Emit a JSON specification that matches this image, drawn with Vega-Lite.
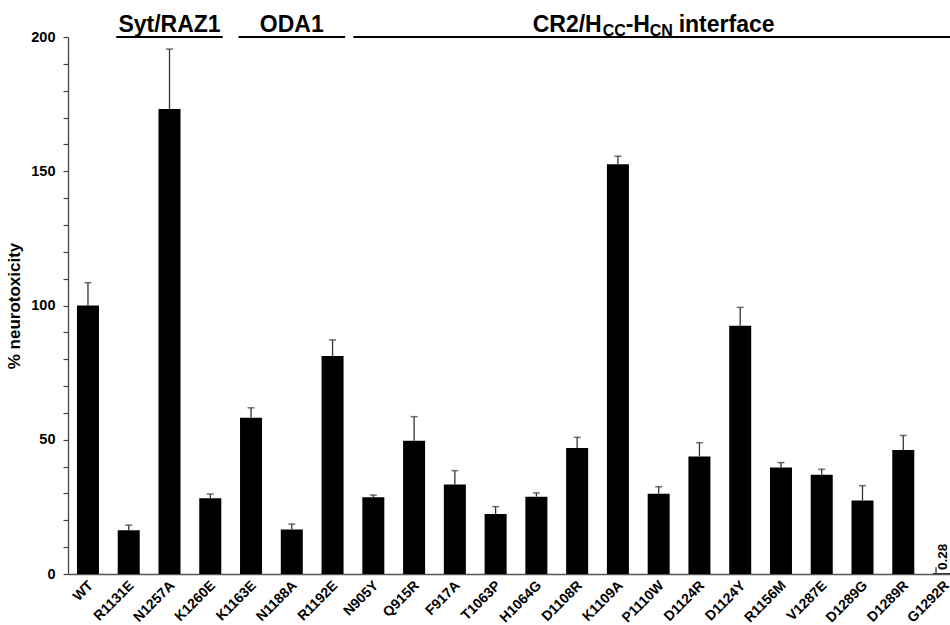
{
  "$schema": "https://vega.github.io/schema/vega-lite/v6.json",
  "width": 882,
  "height": 537,
  "autosize": {"type": "none"},
  "padding": {"left": 68, "top": 37, "right": 0, "bottom": 51},
  "background": "white",
  "config": {"view": {"stroke": null}, "font": "Liberation Sans", "axis": {"labelOverlap": false}},
  "datasets": {
    "mut": [
      {"mutant": "WT", "pct": 100, "upper": 108.5},
      {"mutant": "R1131E", "pct": 16.3, "upper": 18.2},
      {"mutant": "N1257A", "pct": 173.2, "upper": 195.5},
      {"mutant": "K1260E", "pct": 28.2, "upper": 29.8},
      {"mutant": "K1163E", "pct": 58.2, "upper": 61.9},
      {"mutant": "N1188A", "pct": 16.6, "upper": 18.6},
      {"mutant": "R1192E", "pct": 81.2, "upper": 87.2},
      {"mutant": "N905Y", "pct": 28.6, "upper": 29.4},
      {"mutant": "Q915R", "pct": 49.6, "upper": 58.6},
      {"mutant": "F917A", "pct": 33.3, "upper": 38.5},
      {"mutant": "T1063P", "pct": 22.3, "upper": 25.1},
      {"mutant": "H1064G", "pct": 28.8, "upper": 30.2},
      {"mutant": "D1108R", "pct": 46.9, "upper": 50.9},
      {"mutant": "K1109A", "pct": 152.6, "upper": 155.6},
      {"mutant": "P1110W", "pct": 29.9, "upper": 32.5},
      {"mutant": "D1124R", "pct": 43.8, "upper": 48.9},
      {"mutant": "D1124Y", "pct": 92.5, "upper": 99.3},
      {"mutant": "R1156M", "pct": 39.7, "upper": 41.5},
      {"mutant": "V1287E", "pct": 37.0, "upper": 39.0},
      {"mutant": "D1289G", "pct": 27.4, "upper": 32.9},
      {"mutant": "D1289R", "pct": 46.2, "upper": 51.6},
      {"mutant": "G1292R", "pct": 0.28, "upper": 2.5}
    ],
    "groups": [
      {"label": "Syt/RAZ1", "from": "R1131E", "to": "K1260E", "mid": "N1257A"},
      {"label": "ODA1", "from": "K1163E", "to": "R1192E", "mid": "N1188A"},
      {"label": "CR2", "from": "N905Y", "to": "G1292R", "mid": "P1110W"}
    ]
  },
  "resolve": {"scale": {"x": "shared", "y": "shared"}},
  "layer": [
    {
      "data": {"name": "mut"},
      "mark": {"type": "bar", "color": "black"},
      "encoding": {
        "x": {
          "field": "mutant", "type": "nominal", "sort": null,
          "scale": {
            "domain": ["WT","R1131E","N1257A","K1260E","K1163E","N1188A","R1192E","N905Y","Q915R","F917A","T1063P","H1064G","D1108R","K1109A","P1110W","D1124R","D1124Y","R1156M","V1287E","D1289G","D1289R","G1292R"],
            "range": [0, 896], "paddingInner": 0.46, "paddingOuter": 0.22
          },
          "axis": {
            "title": null, "ticks": false, "domainColor": "#555", "domainWidth": 1.5,
            "labelAngle": -45, "labelAlign": "right", "labelBaseline": "middle",
            "labelPadding": 9, "labelOffset": 3,
            "labelFontWeight": "bold", "labelFontSize": 14, "labelColor": "black", "labelOverlap": false
          }
        },
        "y": {
          "field": "pct", "type": "quantitative",
          "scale": {"domain": [0, 200], "nice": false},
          "axis": {"title": "% neurotoxicity", "titleFontWeight": "bold", "titleFontSize": 17, "titleColor": "black", "titlePadding": 7, "values": [0,10,20,30,40,50,60,70,80,90,100,110,120,130,140,150,160,170,180,190,200], "labelExpr": "datum.value % 50 === 0 ? datum.label : ''", "labelOverlap": false, "grid": false, "tickSize": 5, "tickColor": "#444", "tickWidth": 1.2, "domainColor": "#444", "domainWidth": 1.3, "labelPadding": 8, "labelFontWeight": "bold", "labelFontSize": 14.5, "labelColor": "black"}
        }
      }
    },
    {
      "data": {"name": "mut"},
      "transform": [{"filter": "datum.mutant !== 'G1292R'"}],
      "mark": {"type": "rule", "color": "#333", "strokeWidth": 1.3},
      "encoding": {
        "x": {"field": "mutant", "type": "nominal", "title": null},
        "y": {"field": "pct", "type": "quantitative", "axis": {"title": "% neurotoxicity", "titleFontWeight": "bold", "titleFontSize": 17, "titleColor": "black", "titlePadding": 7, "values": [0,10,20,30,40,50,60,70,80,90,100,110,120,130,140,150,160,170,180,190,200], "labelExpr": "datum.value % 50 === 0 ? datum.label : ''", "labelOverlap": false, "grid": false, "tickSize": 5, "tickColor": "#444", "tickWidth": 1.2, "domainColor": "#444", "domainWidth": 1.3, "labelPadding": 8, "labelFontWeight": "bold", "labelFontSize": 14.5, "labelColor": "black"}},
        "y2": {"field": "upper"}
      }
    },
    {
      "data": {"name": "mut"},
      "transform": [{"filter": "datum.mutant === 'G1292R'"}],
      "mark": {"type": "rule", "color": "#333", "strokeWidth": 1.3, "xOffset": -8},
      "encoding": {
        "x": {"field": "mutant", "type": "nominal", "title": null},
        "y": {"field": "pct", "type": "quantitative", "axis": {"title": "% neurotoxicity", "titleFontWeight": "bold", "titleFontSize": 17, "titleColor": "black", "titlePadding": 7, "values": [0,10,20,30,40,50,60,70,80,90,100,110,120,130,140,150,160,170,180,190,200], "labelExpr": "datum.value % 50 === 0 ? datum.label : ''", "labelOverlap": false, "grid": false, "tickSize": 5, "tickColor": "#444", "tickWidth": 1.2, "domainColor": "#444", "domainWidth": 1.3, "labelPadding": 8, "labelFontWeight": "bold", "labelFontSize": 14.5, "labelColor": "black"}},
        "y2": {"field": "upper"}
      }
    },
    {
      "data": {"name": "mut"},
      "transform": [{"filter": "datum.mutant !== 'G1292R'"}],
      "mark": {"type": "tick", "color": "#333", "thickness": 1.5, "size": 7},
      "encoding": {
        "x": {"field": "mutant", "type": "nominal", "title": null},
        "y": {"field": "upper", "type": "quantitative", "axis": {"title": "% neurotoxicity", "titleFontWeight": "bold", "titleFontSize": 17, "titleColor": "black", "titlePadding": 7, "values": [0,10,20,30,40,50,60,70,80,90,100,110,120,130,140,150,160,170,180,190,200], "labelExpr": "datum.value % 50 === 0 ? datum.label : ''", "labelOverlap": false, "grid": false, "tickSize": 5, "tickColor": "#444", "tickWidth": 1.2, "domainColor": "#444", "domainWidth": 1.3, "labelPadding": 8, "labelFontWeight": "bold", "labelFontSize": 14.5, "labelColor": "black"}}
      }
    },
    {
      "data": {"name": "mut"},
      "transform": [{"filter": "datum.mutant === 'G1292R'"}],
      "mark": {"type": "text", "angle": 270, "align": "left", "baseline": "middle", "xOffset": -1, "fontWeight": "bold", "fontSize": 13.5, "color": "black"},
      "encoding": {
        "x": {"field": "mutant", "type": "nominal", "title": null},
        "y": {"datum": 1.5, "type": "quantitative", "axis": {"title": "% neurotoxicity", "titleFontWeight": "bold", "titleFontSize": 17, "titleColor": "black", "titlePadding": 7, "values": [0,10,20,30,40,50,60,70,80,90,100,110,120,130,140,150,160,170,180,190,200], "labelExpr": "datum.value % 50 === 0 ? datum.label : ''", "labelOverlap": false, "grid": false, "tickSize": 5, "tickColor": "#444", "tickWidth": 1.2, "domainColor": "#444", "domainWidth": 1.3, "labelPadding": 8, "labelFontWeight": "bold", "labelFontSize": 14.5, "labelColor": "black"}},
        "text": {"value": "0.28"}
      }
    },
    {
      "data": {"name": "groups"},
      "transform": [{"filter": "datum.label !== 'CR2'"}],
      "mark": {"type": "rule", "color": "black", "strokeWidth": 2, "xOffset": -12.5, "x2Offset": 12.5},
      "encoding": {
        "x": {"field": "from", "type": "nominal", "title": null},
        "x2": {"field": "to"},
        "y": {"datum": 200, "type": "quantitative", "axis": {"title": "% neurotoxicity", "titleFontWeight": "bold", "titleFontSize": 17, "titleColor": "black", "titlePadding": 7, "values": [0,10,20,30,40,50,60,70,80,90,100,110,120,130,140,150,160,170,180,190,200], "labelExpr": "datum.value % 50 === 0 ? datum.label : ''", "labelOverlap": false, "grid": false, "tickSize": 5, "tickColor": "#444", "tickWidth": 1.2, "domainColor": "#444", "domainWidth": 1.3, "labelPadding": 8, "labelFontWeight": "bold", "labelFontSize": 14.5, "labelColor": "black"}}
      }
    },
    {
      "data": {"name": "groups"},
      "transform": [{"filter": "datum.label === 'CR2'"}],
      "mark": {"type": "rule", "color": "black", "strokeWidth": 2, "xOffset": -20, "x2Offset": 30},
      "encoding": {
        "x": {"field": "from", "type": "nominal", "title": null},
        "x2": {"field": "to"},
        "y": {"datum": 200, "type": "quantitative", "axis": {"title": "% neurotoxicity", "titleFontWeight": "bold", "titleFontSize": 17, "titleColor": "black", "titlePadding": 7, "values": [0,10,20,30,40,50,60,70,80,90,100,110,120,130,140,150,160,170,180,190,200], "labelExpr": "datum.value % 50 === 0 ? datum.label : ''", "labelOverlap": false, "grid": false, "tickSize": 5, "tickColor": "#444", "tickWidth": 1.2, "domainColor": "#444", "domainWidth": 1.3, "labelPadding": 8, "labelFontWeight": "bold", "labelFontSize": 14.5, "labelColor": "black"}}
      }
    },
    {
      "data": {"name": "groups"},
      "transform": [{"filter": "datum.label !== 'CR2'"}],
      "mark": {"type": "text", "align": "center", "baseline": "alphabetic", "dy": -5, "fontSize": 23, "fontWeight": "bold", "color": "black"},
      "encoding": {
        "x": {"field": "mid", "type": "nominal", "title": null},
        "y": {"datum": 200, "type": "quantitative", "axis": {"title": "% neurotoxicity", "titleFontWeight": "bold", "titleFontSize": 17, "titleColor": "black", "titlePadding": 7, "values": [0,10,20,30,40,50,60,70,80,90,100,110,120,130,140,150,160,170,180,190,200], "labelExpr": "datum.value % 50 === 0 ? datum.label : ''", "labelOverlap": false, "grid": false, "tickSize": 5, "tickColor": "#444", "tickWidth": 1.2, "domainColor": "#444", "domainWidth": 1.3, "labelPadding": 8, "labelFontWeight": "bold", "labelFontSize": 14.5, "labelColor": "black"}},
        "text": {"field": "label"}
      }
    },
    {
      "data": {"name": "groups"},
      "transform": [{"filter": "datum.label === 'CR2'"}],
      "mark": {"type": "text", "align": "left", "baseline": "alphabetic", "dx": -126, "dy": -5, "fontSize": 23, "fontWeight": "bold", "color": "black"},
      "encoding": {
        "x": {"field": "mid", "type": "nominal", "title": null},
        "y": {"datum": 200, "type": "quantitative", "axis": {"title": "% neurotoxicity", "titleFontWeight": "bold", "titleFontSize": 17, "titleColor": "black", "titlePadding": 7, "values": [0,10,20,30,40,50,60,70,80,90,100,110,120,130,140,150,160,170,180,190,200], "labelExpr": "datum.value % 50 === 0 ? datum.label : ''", "labelOverlap": false, "grid": false, "tickSize": 5, "tickColor": "#444", "tickWidth": 1.2, "domainColor": "#444", "domainWidth": 1.3, "labelPadding": 8, "labelFontWeight": "bold", "labelFontSize": 14.5, "labelColor": "black"}},
        "text": {"value": "CR2/H"}
      }
    },
    {
      "data": {"name": "groups"},
      "transform": [{"filter": "datum.label === 'CR2'"}],
      "mark": {"type": "text", "align": "left", "baseline": "alphabetic", "dx": -56, "dy": -1, "fontSize": 16, "fontWeight": "bold", "color": "black"},
      "encoding": {
        "x": {"field": "mid", "type": "nominal", "title": null},
        "y": {"datum": 200, "type": "quantitative", "axis": {"title": "% neurotoxicity", "titleFontWeight": "bold", "titleFontSize": 17, "titleColor": "black", "titlePadding": 7, "values": [0,10,20,30,40,50,60,70,80,90,100,110,120,130,140,150,160,170,180,190,200], "labelExpr": "datum.value % 50 === 0 ? datum.label : ''", "labelOverlap": false, "grid": false, "tickSize": 5, "tickColor": "#444", "tickWidth": 1.2, "domainColor": "#444", "domainWidth": 1.3, "labelPadding": 8, "labelFontWeight": "bold", "labelFontSize": 14.5, "labelColor": "black"}},
        "text": {"value": "CC"}
      }
    },
    {
      "data": {"name": "groups"},
      "transform": [{"filter": "datum.label === 'CR2'"}],
      "mark": {"type": "text", "align": "left", "baseline": "alphabetic", "dx": -33, "dy": -5, "fontSize": 23, "fontWeight": "bold", "color": "black"},
      "encoding": {
        "x": {"field": "mid", "type": "nominal", "title": null},
        "y": {"datum": 200, "type": "quantitative", "axis": {"title": "% neurotoxicity", "titleFontWeight": "bold", "titleFontSize": 17, "titleColor": "black", "titlePadding": 7, "values": [0,10,20,30,40,50,60,70,80,90,100,110,120,130,140,150,160,170,180,190,200], "labelExpr": "datum.value % 50 === 0 ? datum.label : ''", "labelOverlap": false, "grid": false, "tickSize": 5, "tickColor": "#444", "tickWidth": 1.2, "domainColor": "#444", "domainWidth": 1.3, "labelPadding": 8, "labelFontWeight": "bold", "labelFontSize": 14.5, "labelColor": "black"}},
        "text": {"value": "-H"}
      }
    },
    {
      "data": {"name": "groups"},
      "transform": [{"filter": "datum.label === 'CR2'"}],
      "mark": {"type": "text", "align": "left", "baseline": "alphabetic", "dx": -9, "dy": -1, "fontSize": 16, "fontWeight": "bold", "color": "black"},
      "encoding": {
        "x": {"field": "mid", "type": "nominal", "title": null},
        "y": {"datum": 200, "type": "quantitative", "axis": {"title": "% neurotoxicity", "titleFontWeight": "bold", "titleFontSize": 17, "titleColor": "black", "titlePadding": 7, "values": [0,10,20,30,40,50,60,70,80,90,100,110,120,130,140,150,160,170,180,190,200], "labelExpr": "datum.value % 50 === 0 ? datum.label : ''", "labelOverlap": false, "grid": false, "tickSize": 5, "tickColor": "#444", "tickWidth": 1.2, "domainColor": "#444", "domainWidth": 1.3, "labelPadding": 8, "labelFontWeight": "bold", "labelFontSize": 14.5, "labelColor": "black"}},
        "text": {"value": "CN"}
      }
    },
    {
      "data": {"name": "groups"},
      "transform": [{"filter": "datum.label === 'CR2'"}],
      "mark": {"type": "text", "align": "left", "baseline": "alphabetic", "dx": 20, "dy": -5, "fontSize": 23, "fontWeight": "bold", "color": "black"},
      "encoding": {
        "x": {"field": "mid", "type": "nominal", "title": null},
        "y": {"datum": 200, "type": "quantitative", "axis": {"title": "% neurotoxicity", "titleFontWeight": "bold", "titleFontSize": 17, "titleColor": "black", "titlePadding": 7, "values": [0,10,20,30,40,50,60,70,80,90,100,110,120,130,140,150,160,170,180,190,200], "labelExpr": "datum.value % 50 === 0 ? datum.label : ''", "labelOverlap": false, "grid": false, "tickSize": 5, "tickColor": "#444", "tickWidth": 1.2, "domainColor": "#444", "domainWidth": 1.3, "labelPadding": 8, "labelFontWeight": "bold", "labelFontSize": 14.5, "labelColor": "black"}},
        "text": {"value": "interface"}
      }
    }
  ]
}
